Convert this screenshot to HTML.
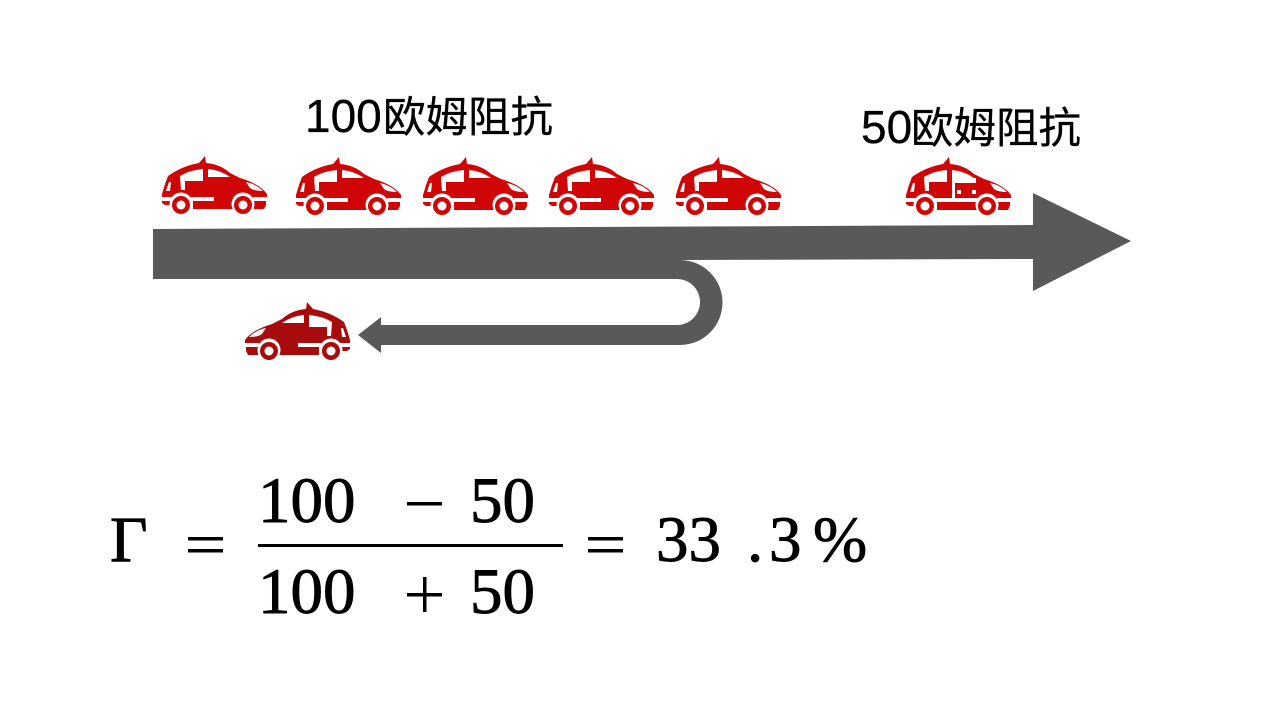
<!DOCTYPE html>
<html><head><meta charset="utf-8"><style>
html,body{margin:0;padding:0;background:#fff;width:1280px;height:720px;overflow:hidden}
svg{display:block}
.f{font-family:"Liberation Serif",serif;font-size:65px;fill:#000;stroke:#000;stroke-width:.9}
.c{font-family:"Liberation Sans","Noto Sans CJK SC",sans-serif;fill:#000;stroke:#000;stroke-width:.3}
</style></head><body>
<svg width="1280" height="720" viewBox="0 0 1280 720" xmlns="http://www.w3.org/2000/svg">
<defs>
<g id="carbase">
  <path d="M6 20Q20 10 37 7L43 0L44 7Q58 8 68 17L78 22Q98 28 105 38V44H104V49L102 53H92L90 45H72V53H31V45H9L11 49H3L0 47V38L3 28Z"/>
  <path fill="#fff" d="M18 20Q28 14 41 13V25H23V34H19Z"/>
  <path fill="#fff" d="M46 13Q58 14 68 21H46Z"/>
  <path fill="#fff" d="M4 35L7 26H9L8 35Z"/>
  <path fill="#fff" d="M84 26Q94 28 101 35Q92 35 88 32Z"/>
  <circle cx="19" cy="48" r="11.5" fill="#fff"/>
  <circle cx="81" cy="48" r="11.5" fill="#fff"/>
  <rect x="0" y="41" width="10" height="4" fill="#fff"/>
  <rect x="91" y="41" width="14" height="4" fill="#fff"/>
  <circle cx="19" cy="49" r="9"/><circle cx="19" cy="49" r="4.5" fill="#fff"/>
  <circle cx="81" cy="49" r="9"/><circle cx="81" cy="49" r="4.5" fill="#fff"/>
</g>
<g id="car"><use href="#carbase"/><rect x="28" y="41" width="24" height="4" fill="#fff"/></g>
</defs>

<g fill="#d00505">
  <use href="#car" x="162" y="156"/>
  <use href="#car" x="296" y="157"/>
  <use href="#car" x="423" y="157"/>
  <use href="#car" x="549" y="157"/>
  <use href="#car" x="676" y="157"/>
  <g transform="translate(906,157)">
    <use href="#carbase"/>
    <rect x="28" y="41" width="45" height="4" fill="#fff"/>
    <rect x="46" y="21" width="3" height="20" fill="#fff"/>
    <rect x="46" y="21" width="24" height="5" fill="#fff"/>
    <rect x="51" y="33" width="4" height="4" fill="#fff"/>
    <rect x="66" y="33" width="4" height="4" fill="#fff"/>
  </g>
</g>
<g fill="#a80b0b">
  <g transform="translate(350,302) scale(-1,1)"><use href="#car"/></g>
</g>

<path fill="#595959" d="M153 229L1033 225V193L1131 241L1033 291V259L680 260A42.5 42.5 0 0 1 680 345H381V353L358 335L381 317V325H677A23 23 0 0 0 677 279H153Z"/>

<text class="c" x="305" y="132" font-size="46">100</text>
<text class="c" x="383" y="132" font-size="42.5">欧姆阻抗</text>
<text class="c" x="861" y="143" font-size="46">50</text>
<text class="c" x="911" y="143" font-size="42.5">欧姆阻抗</text>

<text class="f" x="110" y="561">Γ</text>
<rect x="188" y="537" width="35" height="3.5"/>
<rect x="188" y="549" width="35" height="3.5"/>
<text class="f" x="258" y="522">100</text>
<rect x="407" y="502" width="35" height="3.5"/>
<text class="f" x="470" y="522">50</text>
<rect x="258" y="544" width="305" height="3"/>
<text class="f" x="258" y="613">100</text>
<rect x="407" y="593" width="35" height="3.5"/>
<rect x="423" y="577" width="3.5" height="35"/>
<text class="f" x="470" y="613">50</text>
<rect x="588" y="537" width="35" height="3.5"/>
<rect x="588" y="549" width="35" height="3.5"/>
<text class="f" x="656" y="561">33</text>
<text class="f" x="747" y="561">.</text>
<text class="f" x="769" y="561">3</text>
<text class="f" x="813" y="561">%</text>
</svg>
</body></html>
